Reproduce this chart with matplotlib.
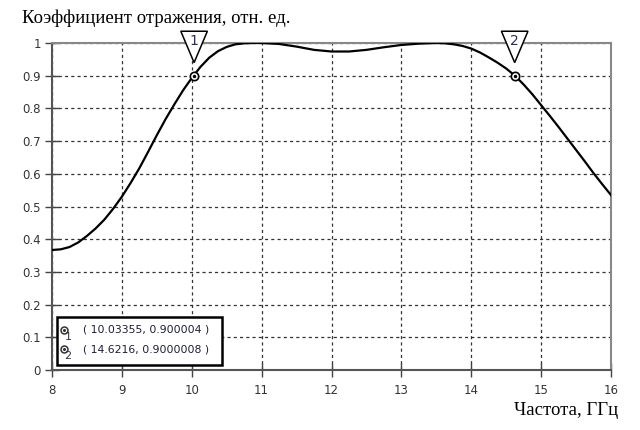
import matplotlib
matplotlib.use("Agg")
import matplotlib.pyplot as plt
from matplotlib.patches import Polygon, Rectangle
from matplotlib.lines import Line2D

freq = [8.0, 8.125, 8.25, 8.375, 8.5, 8.625, 8.75, 8.875, 9.0, 9.125, 9.25,
        9.375, 9.5, 9.625, 9.75, 9.875, 10.0, 10.125, 10.25, 10.375, 10.5,
        10.625, 10.75, 10.875, 11.0, 11.25, 11.5, 11.75, 12.0, 12.25, 12.5,
        12.75, 13.0, 13.25, 13.5, 13.625, 13.75, 13.875, 14.0, 14.125, 14.25,
        14.375, 14.5, 14.625, 14.75, 14.875, 15.0, 15.125, 15.25, 15.375, 15.5,
        15.625, 15.75, 15.875, 16.0]
refl = [0.367, 0.369, 0.376, 0.390, 0.410, 0.433, 0.460, 0.493, 0.530, 0.572,
        0.617, 0.667, 0.718, 0.767, 0.812, 0.855, 0.893, 0.927, 0.955, 0.975,
        0.988, 0.996, 0.999, 1.0, 1.0, 0.997, 0.989, 0.979, 0.974, 0.974,
        0.979, 0.987, 0.994, 0.998, 1.0, 0.999, 0.996, 0.991, 0.983, 0.971,
        0.956, 0.940, 0.922, 0.900, 0.873, 0.843, 0.810, 0.777, 0.743, 0.708,
        0.673, 0.638, 0.602, 0.568, 0.535]
marker_x = [10.03355, 14.6216]
marker_y = [0.900004, 0.9000008]
marker_labels = ["1", "2"]
legend_texts = ["( 10.03355, 0.900004 )", "( 14.6216, 0.9000008 )"]
xticks = [8, 9, 10, 11, 12, 13, 14, 15, 16]
yticks = [0, 0.1, 0.2, 0.3, 0.4, 0.5, 0.6, 0.7, 0.8, 0.9, 1]
yticklabels = ["0", "0.1", "0.2", "0.3", "0.4", "0.5", "0.6", "0.7", "0.8", "0.9", "1"]

W, H = 640, 430
fig = plt.figure(figsize=(6.4, 4.3), dpi=100)
ax = fig.add_axes([52 / W, 1 - 370 / H, (611 - 52) / W, (370 - 43) / H])
ax.set_xlim(8, 16)
ax.set_ylim(0, 1)

tick_color = "#333338"
ax.set_xticks(xticks)
ax.set_xticklabels([str(t) for t in xticks])
ax.set_yticks(yticks)
ax.set_yticklabels(yticklabels)
for lab in ax.get_xticklabels() + ax.get_yticklabels():
    lab.set_family("DejaVu Sans")
    lab.set_fontsize(8.5)
    lab.set_color(tick_color)
ax.tick_params(direction="inout", length=10, width=1, color="#444444", pad=3)
ax.tick_params(axis="x", pad=5)

ax.grid(True, linestyle=(0, (2.5, 2.5)), color="#333333", linewidth=0.9)
for s in ["left", "bottom"]:
    ax.spines[s].set_color("#555555")
    ax.spines[s].set_linewidth(1.5)
for s in ["top", "right"]:
    ax.spines[s].set_color("#888888")
    ax.spines[s].set_linewidth(1.5)

ax.plot(freq, refl, color="black", linewidth=1.6, zorder=3)

for mx, my, ml in zip(marker_x, marker_y, marker_labels):
    ax.plot([mx], [my], marker="o", markersize=6, markerfacecolor="white",
            markeredgecolor="black", markeredgewidth=1.2, zorder=5, clip_on=False)
    ax.plot([mx], [my], marker="o", markersize=1.5, color="black", zorder=6, clip_on=False)
    tri = Polygon([(mx - 0.19, 1.036), (mx + 0.19, 1.036), (mx, 0.94)], closed=True,
                  facecolor="white", edgecolor="black", linewidth=1.1,
                  zorder=7, clip_on=False)
    ax.add_patch(tri)
    ax.text(mx, 1.006, ml, ha="center", va="center", fontsize=10,
            family="DejaVu Sans", color="#2b2b55", zorder=8, clip_on=False)

# legend box
fig.patches.append(Rectangle((57 / W, 1 - 365 / H), (222 - 57) / W, (365 - 317) / H,
                             transform=fig.transFigure, facecolor="white",
                             edgecolor="black", linewidth=1.8, zorder=10))
for i, (lt, ml) in enumerate(zip(legend_texts, marker_labels)):
    yc = 330 + i * 19
    fig.lines.append(Line2D([64 / W], [1 - yc / H], marker="o", markersize=5,
                            markerfacecolor="white", markeredgecolor="#333333",
                            markeredgewidth=1.1, transform=fig.transFigure, zorder=11))
    fig.lines.append(Line2D([64 / W], [1 - yc / H], marker="o", markersize=1.2,
                            color="#333333", transform=fig.transFigure, zorder=12))
    fig.text(68 / W, 1 - (yc + 7) / H, ml, ha="center", va="center", fontsize=8,
             family="DejaVu Sans", color="#333344", zorder=12)
    fig.text(83 / W, 1 - yc / H, lt, ha="left", va="center", fontsize=7.8,
             family="DejaVu Sans", color="#1e1e35", zorder=12)

fig.text(22 / W, 1 - 23 / H, "Коэффициент отражения, отн. ед.", ha="left",
         va="baseline", fontsize=13.5, family="Liberation Serif", color="black")
fig.text(618 / W, 1 - 415 / H, "Частота, ГГц", ha="right", va="baseline",
         fontsize=13.5, family="Liberation Serif", color="black")

fig.savefig("out.png", dpi=100, facecolor="white")
